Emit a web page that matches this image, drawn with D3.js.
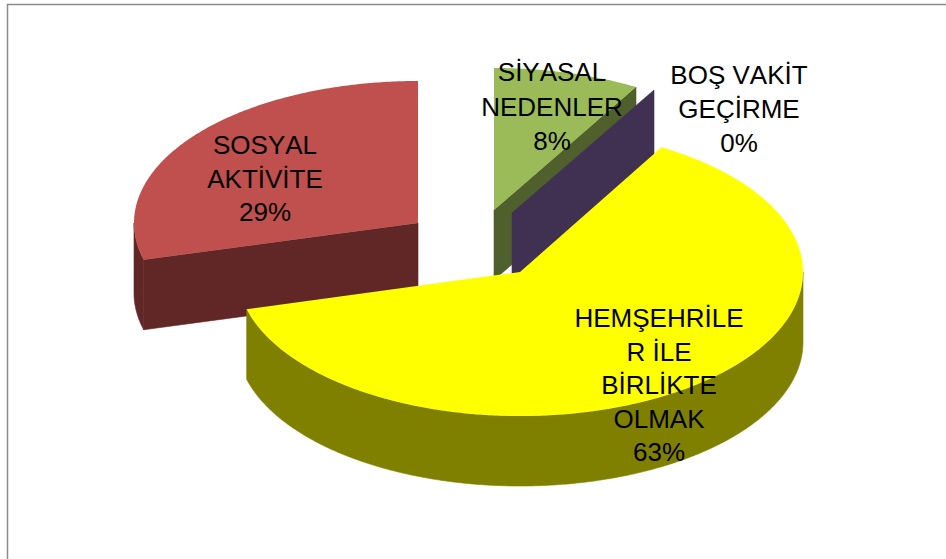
<!DOCTYPE html>
<html><head><meta charset="utf-8">
<style>html,body{margin:0;padding:0;background:#fff}svg{display:block}text{font-family:"Liberation Sans",Arial,sans-serif;fill:#000;font-kerning:none}</style>
<script src="https://d3js.org/d3.v7.min.js"></script></head>
<body><svg id="c" width="946" height="559"></svg>
<script>
const categories = ["SİYASAL NEDENLER","BOŞ VAKİT GEÇİRME","HEMŞEHRİLER İLE BİRLİKTE OLMAK","SOSYAL AKTİVİTE"];
const values = [2, 0, 15, 7];
const labelLines = [["SİYASAL","NEDENLER"],["BOŞ VAKİT","GEÇİRME"],["HEMŞEHRİLE","R İLE","BİRLİKTE","OLMAK"],["SOSYAL","AKTİVİTE"]];
const topColors = ["#9BBB59","#8064A2","#FFFF00","#C0504D"];
const wallColors = ["#4F602C","#403152","#808000","#602726"];

// layout: exploded slice apexes, and label anchors
const apex = [[494,210],[512,213],[520,272],[418,223]];
const labelPos = [[552,72,34.5],[739,75,34],[659,318,33.5],[265,145,33.5]];
const radii = [[284,142],[284,142],[283,144],[284,142]];
const depth = 70;
const drawOrder = [3,0,1,2];

const svg = d3.select("#c");
svg.append("path").attr("d","M7.5,559V4.5H946").attr("fill","none").attr("stroke","#8c8c8c").attr("stroke-width",1.5);

const arcs = d3.pie().sort(null).startAngle(0).endAngle(2*Math.PI)(values);
const total = d3.sum(values);
const line = d3.line();
const FRONT0 = Math.PI/2, FRONT1 = 3*Math.PI/2;

function pt(i,a,dy=0){
  const [cx,cy]=apex[i],[rx,ry]=radii[i];
  return [cx+rx*Math.sin(a), cy-ry*Math.cos(a)+dy];
}
function rim(i,a0,a1,dy=0){
  const n=Math.max(2,Math.ceil(Math.abs(a1-a0)/0.01));
  return d3.range(n+1).map(k=>pt(i,a0+(a1-a0)*k/n,dy));
}
const g = svg.append("g");
function wall(i,d){
  g.append("path").attr("fill",wallColors[i]).attr("stroke",wallColors[i]).attr("stroke-width",0.6).attr("d",d);
}
drawOrder.forEach(i=>{
  const s=arcs[i], a0=s.startAngle, a1=s.endAngle, c=apex[i];
  const lower=[c[0],c[1]+depth];
  if(a1<Math.PI){
    const p=pt(i,a1);
    wall(i,line([c,p,[p[0],p[1]+depth],lower])+"Z");
  }
  if(a0>Math.PI){
    const p=pt(i,a0);
    wall(i,line([c,p,[p[0],p[1]+depth],lower])+"Z");
  }
  const r0=Math.max(a0,FRONT0), r1=Math.min(a1,FRONT1);
  if(r1>r0){
    wall(i,line(rim(i,r0,r1).concat(rim(i,r1,r0,depth)))+"Z");
  }
  if(a1>a0){
    g.append("path").attr("fill",topColors[i])
     .attr("d",line([c].concat(rim(i,a0,a1)))+"Z");
  }
});

const tg = svg.append("g").attr("text-anchor","middle").attr("font-size",26);
labelLines.forEach((ls,i)=>{
  const [x,y,lh]=labelPos[i];
  ls.concat(Math.round(values[i]/total*100)+"%").forEach((t,k)=>{
    tg.append("text").attr("x",x).attr("y",y+k*lh).attr("dy","0.35em").text(t);
  });
});
</script></body></html>
